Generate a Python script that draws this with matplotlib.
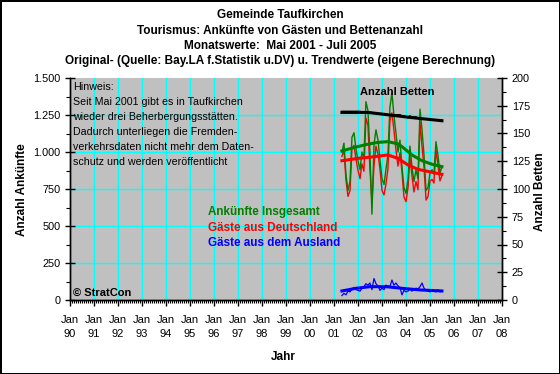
import matplotlib
matplotlib.use("Agg")
import matplotlib.pyplot as plt
import matplotlib.dates as mdates
from matplotlib.ticker import MultipleLocator, FuncFormatter
import pandas as pd
from datetime import datetime

plt.rcParams["font.family"] = ["Liberation Sans", "DejaVu Sans"]

# Monatswerte Mai 2001 - Juli 2005
monate = pd.date_range("2001-05-01", "2005-07-01", freq="MS")

ankuenfte_gesamt = [
    1000, 1060, 850, 740, 800, 1100, 1130, 1020, 940, 880,
    1000, 960, 1340, 1280, 1000, 580, 1050, 1150, 1080, 950,
    820, 780, 880, 980, 1300, 1400, 1250, 1130, 1000, 1080,
    900, 760, 720, 820, 1040, 900, 800, 880, 820, 1290,
    1150, 980, 740, 760, 860, 880, 850, 1070, 980, 860,
    900,
]
gaeste_deutschland = [
    970, 1015, 815, 700, 740, 1025, 1045, 950, 875, 820,
    920, 870, 1230, 1180, 885, 660, 905, 1040, 985, 885,
    740, 710, 780, 885, 1210, 1265, 1150, 1015, 905, 995,
    865, 695, 665, 760, 965, 840, 730, 800, 745, 1200,
    1035, 900, 675, 700, 805, 815, 790, 1015, 910, 805,
    840,
]
gaeste_ausland = [
    30, 45, 35, 60, 55, 75, 85, 70, 65, 60,
    80, 90, 110, 100, 115, 70, 145, 110, 95, 65,
    80, 70, 100, 95, 90, 135, 100, 115, 95, 85,
    35, 65, 55, 60, 75, 60, 70, 80, 75, 90,
    115, 80, 65, 60, 55, 65, 60, 55, 70, 55,
    60,
]
betten = [
    170, 170, 170, 170, 170, 170, 170, 170, 170, 170,
    169, 169, 169, 169, 169, 169, 168, 168, 168, 168,
    168, 167, 167, 167, 167, 167, 167, 167, 167, 167,
    166, 166, 165, 164, 166, 165, 165, 165, 164, 164,
    163, 163, 163, 163, 163, 162, 162, 162, 162, 162,
    162,
]

# Trendwerte (Stützstellen)
trend_gesamt_monate = ["2001-05", "2001-11", "2002-05", "2002-11", "2003-04", "2003-09",
                       "2003-11", "2004-04", "2004-09", "2005-02", "2005-07"]
trend_gesamt = [1007, 1030, 1050, 1065, 1070, 1055, 1036, 980, 941, 917, 901]
trend_de_monate = ["2001-05", "2002-01", "2002-09", "2003-04", "2003-09", "2004-02",
                   "2004-07", "2005-02", "2005-07"]
trend_de = [941, 957, 968, 980, 957, 912, 883, 863, 849]
trend_aus_monate = ["2001-05", "2001-12", "2002-07", "2003-03", "2003-11", "2004-08", "2005-07"]
trend_aus = [61, 79, 90, 90, 79, 68, 61]
trend_betten_monate = ["2001-05", "2002-06", "2003-01", "2004-04", "2005-07"]
trend_betten = [169, 169, 167.5, 164.3, 161.5]

W, H = 560, 374
fig = plt.figure(figsize=(W / 100, H / 100), dpi=100)
fig.patch.set_facecolor("white")
fig.patch.set_edgecolor("black")
fig.patch.set_linewidth(2)

ax = fig.add_axes([70 / W, 1 - 300 / H, 432 / W, 222 / H])
ax.set_facecolor("#C0C0C0")
ax2 = ax.twinx()

x0, x1 = datetime(1990, 1, 1), datetime(2008, 1, 1)

# Gitternetz
for jahr in range(1991, 2008):
    ax.axvline(datetime(jahr, 1, 1), color="#00FFFF", lw=1, zorder=1)
for wert in [250, 500, 750, 1000, 1250]:
    ax.axhline(wert, color="#00FFFF", lw=1, zorder=1)

# Originalwerte
ax.plot(monate, gaeste_deutschland, color="#FF0000", lw=1.0, zorder=3)
ax.plot(monate, ankuenfte_gesamt, color="#008000", lw=1.0, zorder=3)
ax.plot(monate, gaeste_ausland, color="#0000FF", lw=0.9, zorder=3)

# Trendwerte
ax.plot(pd.to_datetime(trend_de_monate), trend_de, color="#FF0000", lw=2.2, zorder=4)
ax.plot(pd.to_datetime(trend_gesamt_monate), trend_gesamt, color="#008000", lw=2.2, zorder=4)
ax.plot(pd.to_datetime(trend_aus_monate), trend_aus, color="#0000FF", lw=2.2, zorder=4)

ax2.plot(monate, betten, color="black", lw=0.9)
ax2.plot(pd.to_datetime(trend_betten_monate), trend_betten, color="black", lw=2.2)

ax.set_xlim(x0, x1)
ax.set_ylim(0, 1500)
ax2.set_ylim(0, 200)

ax.xaxis.set_major_locator(mdates.YearLocator())
ax.xaxis.set_minor_locator(mdates.MonthLocator())
ax.xaxis.set_major_formatter(mdates.DateFormatter("%b\n%y"))

ax.yaxis.set_major_locator(MultipleLocator(250))
ax.yaxis.set_minor_locator(MultipleLocator(125))
ax.yaxis.set_major_formatter(FuncFormatter(lambda v, p: f"{int(v):,}".replace(",", ".")))
ax2.yaxis.set_major_locator(MultipleLocator(25))
ax2.yaxis.set_minor_locator(MultipleLocator(12.5))

ax.tick_params(axis="x", which="major", length=4, width=1, pad=7, labelsize=8)
ax.tick_params(axis="x", which="minor", length=2, width=0.8)
ax.tick_params(axis="y", which="major", direction="inout", length=7, width=1, labelsize=7.8)
ax.tick_params(axis="y", which="minor", direction="out", length=3, width=0.8)
ax2.tick_params(axis="y", which="major", direction="inout", length=7, width=1, labelsize=7.8)
ax2.tick_params(axis="y", which="minor", direction="out", length=3, width=0.8)
for lab in ax.get_xticklabels():
    lab.set_linespacing(1.5)

for a in (ax, ax2):
    a.spines["top"].set_visible(False)
    for s in ("left", "right", "bottom"):
        a.spines[s].set_linewidth(1)

# Texte
def ftext(px, py, s, **kw):
    fig.text(px / W, 1 - py / H, s, **kw)

ftext(280, 15, "Gemeinde Taufkirchen", ha="center", va="center", fontsize=8.5, fontweight="bold")
ftext(280, 31, "Tourismus: Ankünfte von Gästen und Bettenanzahl", ha="center", va="center",
      fontsize=8.5, fontweight="bold")
ftext(280, 46, "Monatswerte:  Mai 2001 - Juli 2005", ha="center", va="center", fontsize=8.5,
      fontweight="bold")
ftext(280, 61, "Original- (Quelle: Bay.LA f.Statistik u.DV) u. Trendwerte (eigene Berechnung)",
      ha="center", va="center", fontsize=8.5, fontweight="bold")

ftext(283, 357, "Jahr", ha="center", va="center", fontsize=8.5, fontweight="bold")
ftext(22, 190, "Anzahl Ankünfte", ha="center", va="center", rotation=90, fontsize=8.5,
      fontweight="bold")
ftext(540, 192, "Anzahl Betten", ha="center", va="center", rotation=90, fontsize=8.5,
      fontweight="bold")

hinweis = ["Hinweis:", "Seit Mai 2001 gibt es in Taufkirchen", "wieder drei Beherbergungsstätten.",
           "Dadurch unterliegen die Fremden-", "verkehrsdaten nicht mehr dem Daten-",
           "schutz und werden veröffentlicht"]
for i, zeile in enumerate(hinweis):
    ftext(73, 87 + i * 15, zeile, ha="left", va="center", fontsize=7.7)

ftext(208, 212, "Ankünfte Insgesamt", color="#008000", ha="left", va="center", fontsize=8.4,
      fontweight="bold")
ftext(208, 228, "Gäste aus Deutschland", color="#FF0000", ha="left", va="center", fontsize=8.4,
      fontweight="bold")
ftext(208, 243, "Gäste aus dem Ausland", color="#0000FF", ha="left", va="center", fontsize=8.4,
      fontweight="bold")
ftext(360, 92, "Anzahl Betten", ha="left", va="center", fontsize=8, fontweight="bold")
ftext(73, 293, "© StratCon", ha="left", va="center", fontsize=8, fontweight="bold")

fig.savefig("out.png", dpi=100, facecolor=fig.get_facecolor(), edgecolor=fig.get_edgecolor())
